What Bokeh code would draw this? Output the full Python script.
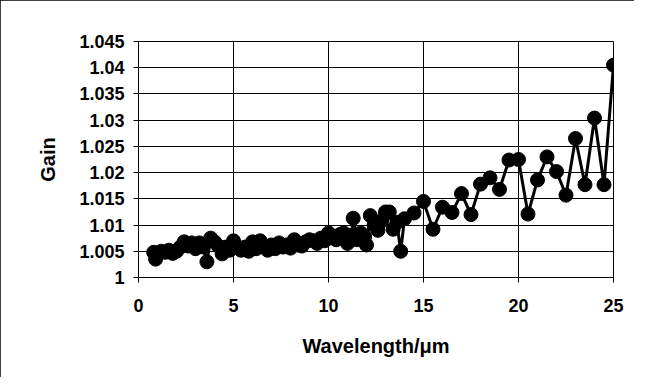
from bokeh.plotting import figure
from bokeh.models import FixedTicker, Range1d
from bokeh.embed import file_html
from bokeh.resources import INLINE

wavelength = [0.8, 0.9, 1.0, 1.2, 1.4, 1.6, 1.8, 2.0, 2.2, 2.4, 2.6, 2.8, 3.0, 3.2, 3.4,
              3.6, 3.8, 4.0, 4.2, 4.4, 4.6, 4.8, 5.0, 5.2, 5.4, 5.6, 5.8, 6.0, 6.2, 6.4,
              6.6, 6.8, 7.0, 7.2, 7.4, 7.6, 7.8, 8.0, 8.2, 8.4, 8.6, 8.8, 9.0, 9.2, 9.4,
              9.6, 9.8, 10.0, 10.2, 10.4, 10.6, 10.8, 11.0, 11.2, 11.3, 11.5, 11.7, 11.9,
              12.0, 12.2, 12.4, 12.6, 12.8, 13.0, 13.2, 13.4, 13.6, 13.8, 14.0, 14.5,
              15.0, 15.5, 16.0, 16.5, 17.0, 17.5, 18.0, 18.5, 19.0, 19.5, 20.0, 20.5,
              21.0, 21.5, 22.0, 22.5, 23.0, 23.5, 24.0, 24.5, 25.0]
gain = [1.0048, 1.0035, 1.0045, 1.0050, 1.0048, 1.0052, 1.0046, 1.0050, 1.0058, 1.0068,
        1.0060, 1.0066, 1.0055, 1.0066, 1.0058, 1.0030, 1.0075, 1.0068, 1.0060, 1.0045,
        1.0058, 1.0052, 1.0070, 1.0058, 1.0052, 1.0058, 1.0050, 1.0068, 1.0055, 1.0070,
        1.0058, 1.0052, 1.0062, 1.0055, 1.0066, 1.0058, 1.0062, 1.0056, 1.0072, 1.0062,
        1.0060, 1.0068, 1.0072, 1.0070, 1.0065, 1.0075, 1.0070, 1.0085, 1.0078, 1.0072,
        1.0082, 1.0085, 1.0065, 1.0080, 1.0113, 1.0072, 1.0085, 1.0078, 1.0062, 1.0118,
        1.0100, 1.0090, 1.0108, 1.0125, 1.0125, 1.0092, 1.0105, 1.0050, 1.0112, 1.0123,
        1.0145, 1.0092, 1.0134, 1.0124, 1.0160, 1.0120, 1.0178, 1.0190, 1.0168, 1.0224,
        1.0225, 1.0121, 1.0186, 1.0230, 1.0202, 1.0157, 1.0265, 1.0177, 1.0304, 1.0177,
        1.0405]

x_ticks = [0, 5, 10, 15, 20, 25]
y_ticks = [1.0, 1.005, 1.01, 1.015, 1.02, 1.025, 1.03, 1.035, 1.04, 1.045]
y_labels = {1.0: "1", 1.005: "1.005", 1.01: "1.01", 1.015: "1.015", 1.02: "1.02",
            1.025: "1.025", 1.03: "1.03", 1.035: "1.035", 1.04: "1.04", 1.045: "1.045"}

p = figure(width=634, height=377, output_backend="svg", toolbar_location=None,
           x_range=Range1d(0, 25), y_range=Range1d(1.0, 1.045),
           min_border_left=138, min_border_right=21, min_border_top=41, min_border_bottom=100)
p.styles = {"outline": "1px solid #000000", "outline-offset": "-1px"}
p.background_fill_color = "white"
p.border_fill_color = "white"
p.outline_line_color = "black"
p.outline_line_width = 1

p.line(wavelength, gain, line_color="black", line_width=3)
p.scatter(wavelength, gain, size=14, fill_color="black", line_color="black")

font = "Liberation Sans"
for ax in (p.xaxis[0], p.yaxis[0]):
    ax.axis_line_color = "black"
    ax.major_tick_line_color = "black"
    ax.major_tick_out = 5
    ax.major_tick_in = 0
    ax.minor_tick_line_color = None
    ax.major_label_text_font = font
    ax.major_label_text_font_style = "bold"
    ax.major_label_text_font_size = "18px"
    ax.major_label_text_color = "black"
    ax.axis_label_text_font = font
    ax.axis_label_text_font_style = "bold"
    ax.axis_label_text_font_size = "20px"
    ax.axis_label_text_color = "black"

p.xaxis[0].ticker = FixedTicker(ticks=x_ticks)
p.yaxis[0].ticker = FixedTicker(ticks=y_ticks)
p.yaxis[0].major_label_overrides = y_labels
p.xaxis[0].major_label_standoff = 16
p.yaxis[0].major_label_standoff = 9
p.xaxis[0].axis_label = "Wavelength/μm"
p.yaxis[0].axis_label = "Gain"
p.xaxis[0].axis_label_standoff = 20
p.yaxis[0].axis_label_standoff = 17

p.xgrid[0].ticker = FixedTicker(ticks=x_ticks)
p.ygrid[0].ticker = FixedTicker(ticks=y_ticks)
p.xgrid.grid_line_color = "black"
p.ygrid.grid_line_color = "black"
p.xgrid.grid_line_width = 1
p.ygrid.grid_line_width = 1

open("out.html", "w").write(file_html(p, INLINE))
